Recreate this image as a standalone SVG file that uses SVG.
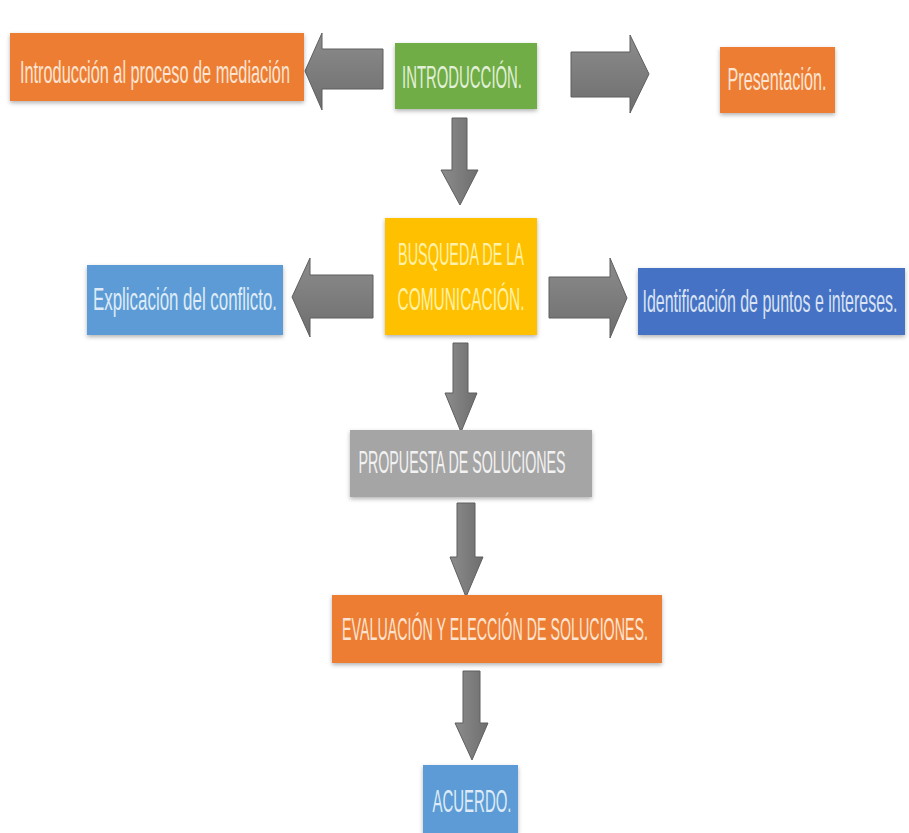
<svg xmlns="http://www.w3.org/2000/svg" width="909" height="833" viewBox="0 0 909 833">
<defs>
<filter id="sh" x="-10%" y="-10%" width="120%" height="130%">
<feDropShadow dx="0" dy="2" stdDeviation="2" flood-color="#000" flood-opacity="0.3"/>
</filter>
<linearGradient id="ag" x1="0" y1="0" x2="0" y2="1">
<stop offset="0" stop-color="#8c8c8c"/>
<stop offset="1" stop-color="#6e6e6e"/>
</linearGradient>
<linearGradient id="agv" x1="0" y1="0" x2="1" y2="0">
<stop offset="0" stop-color="#8c8c8c"/>
<stop offset="1" stop-color="#6e6e6e"/>
</linearGradient>
</defs>
<style>
.box{filter:url(#sh);}
.t{font-family:"Liberation Sans Narrow","Liberation Sans",Arial,sans-serif;font-size:32px;text-anchor:middle;}
.arr{fill:url(#ag);stroke:#5f5f5f;stroke-width:1;}
.arrv{fill:url(#agv);stroke:#5f5f5f;stroke-width:1;}
</style>
<rect width="909" height="833" fill="#ffffff"/>
<g id="connectors">
<polygon class="arr" points="383,49 322,49 322,33 305,71 322,110 322,89 383,89"/>
<polygon class="arr" points="571,52 630,52 630,35 649,74 630,113 630,97 571,97"/>
<polygon class="arrv" points="452,118 467,118 467,170 478,170 460,205 441,170 452,170"/>
<polygon class="arr" points="373,275 310,275 310,258 292,297 310,337 310,318 373,318"/>
<polygon class="arr" points="549,277 610,277 610,258 627,298 610,338 610,318 549,318"/>
<polygon class="arrv" points="453,343 468,343 468,393 477,393 461,432 445,393 453,393"/>
<polygon class="arrv" points="457,503 475,503 475,557 483,557 466,597 450,557 457,557"/>
<polygon class="arrv" points="463,671 480,671 480,723 488,723 472,760 455,723 463,723"/>
</g>
<g id="n-intro-proceso">
<rect class="box" x="10" y="33" width="294" height="68" fill="#ed7d31"/>
<text class="t" x="155" y="83" fill="#fce4d3" textLength="270" lengthAdjust="spacingAndGlyphs">Introducción al proceso de mediación</text>
</g>
<g id="n-introduccion">
<rect class="box" x="395" y="43" width="142" height="66" fill="#70ad47"/>
<text class="t" x="462" y="88" fill="#e2f0d9" textLength="120" lengthAdjust="spacingAndGlyphs">INTRODUCCIÓN.</text>
</g>
<g id="n-presentacion">
<rect class="box" x="720" y="47" width="115" height="66" fill="#ed7d31"/>
<text class="t" x="777" y="90" fill="#fce4d3" textLength="99" lengthAdjust="spacingAndGlyphs">Presentación.</text>
</g>
<g id="n-busqueda">
<rect class="box" x="385" y="218" width="152" height="117" fill="#ffc000"/>
<text class="t" x="461" y="265" fill="#fff2a8" textLength="126" lengthAdjust="spacingAndGlyphs">BUSQUEDA DE LA</text>
<text class="t" x="461" y="310" fill="#fff2a8" textLength="127" lengthAdjust="spacingAndGlyphs">COMUNICACIÓN.</text>
</g>
<g id="n-explicacion">
<rect class="box" x="87" y="265" width="196" height="70" fill="#5b9bd5"/>
<text class="t" x="185" y="310" fill="#deebf7" textLength="184" lengthAdjust="spacingAndGlyphs">Explicación del conflicto.</text>
</g>
<g id="n-identificacion">
<rect class="box" x="638" y="268" width="267" height="67" fill="#4472c4"/>
<text class="t" x="770" y="312" fill="#dae3f3" textLength="255" lengthAdjust="spacingAndGlyphs">Identificación de puntos e intereses.</text>
</g>
<g id="n-propuesta">
<rect class="box" x="350" y="430" width="242" height="67" fill="#a5a5a5"/>
<text class="t" x="462" y="473" fill="#f2f2f2" textLength="207" lengthAdjust="spacingAndGlyphs">PROPUESTA DE SOLUCIONES</text>
</g>
<g id="n-evaluacion">
<rect class="box" x="332" y="595" width="330" height="68" fill="#ed7d31"/>
<text class="t" x="495" y="640" fill="#fce4d3" textLength="306" lengthAdjust="spacingAndGlyphs">EVALUACIÓN Y ELECCIÓN DE SOLUCIONES.</text>
</g>
<g id="n-acuerdo">
<rect class="box" x="423" y="765" width="95" height="68" fill="#5b9bd5"/>
<text class="t" x="472" y="812" fill="#deebf7" textLength="79" lengthAdjust="spacingAndGlyphs">ACUERDO.</text>
</g>
</svg>
